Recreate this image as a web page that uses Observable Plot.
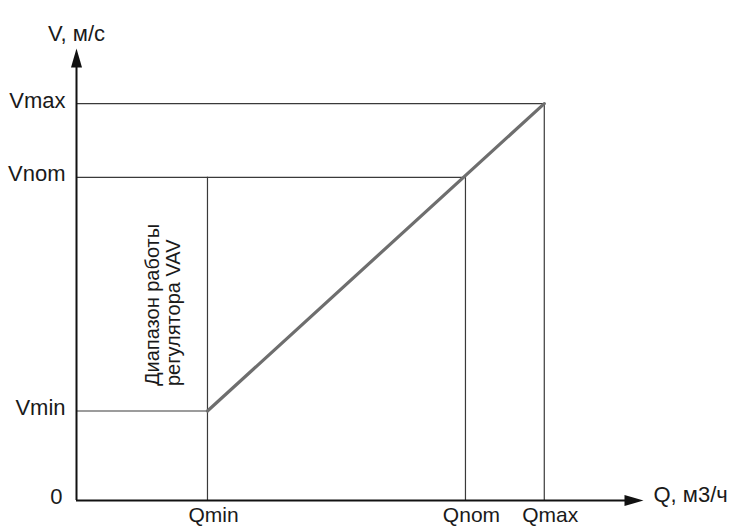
<!DOCTYPE html>
<html>
<head>
<meta charset="utf-8">
<script src="https://cdn.jsdelivr.net/npm/d3@7"></script>
<script src="https://cdn.jsdelivr.net/npm/@observablehq/plot@0.6"></script>
<style>
  html, body { margin: 0; padding: 0; background: #fff; }
  #chart { width: 732px; height: 528px; }
</style>
</head>
<body>
<div id="chart"></div>
<script>
// Flow rate points (relative units) and velocity points (relative units)
const qNames = ["Qmin", "Qnom", "Qmax"];
const qValues = [23.1, 68.6, 82.5];
const vNames = ["Vmin", "Vnom", "Vmax"];
const vValues = [19.8, 71.5, 87.8];
const xAxisMax = 100;
const yAxisMax = 100;
const xTitle = "Q, м3/ч";
const yTitle = "V, м/с";
const zeroLabel = "0";
const bandLabel = ["Диапазон работы", "регулятора VAV"];

const pts = qNames.map((q, i) => ({q: qValues[i], v: vValues[i], qn: q, vn: vNames[i]}));
const [pMin, pNom, pMax] = pts;

const hGuides = [
  {y: pMin.v, x2: pMin.q},
  {y: pNom.v, x2: pNom.q},
  {y: pMax.v, x2: pMax.q}
];
const vGuides = [
  {x: pMin.q, y2: pNom.v},
  {x: pNom.q, y2: pNom.v},
  {x: pMax.q, y2: pMax.v}
];

const arrowSymbol = {
  draw(ctx, size) {
    ctx.moveTo(0, 0);
    ctx.lineTo(-19, -5.5);
    ctx.lineTo(-19, 5.5);
    ctx.closePath();
  }
};

const font = "'Liberation Sans', Arial, Helvetica, sans-serif";
const fs = 22;
const ink = "#1a1a1a";

const chart = Plot.plot({
  width: 732,
  height: 528,
  marginLeft: 76,
  marginRight: 89,
  marginTop: 48,
  marginBottom: 28,
  style: {fontFamily: font, fontSize: fs + "px", color: ink, background: "#fff"},
  x: {domain: [0, xAxisMax], axis: null},
  y: {domain: [0, yAxisMax], axis: null},
  marks: [
    Plot.ruleY(hGuides, {y: "y", x1: 0, x2: "x2", stroke: "#3a3a3a", strokeWidth: 1.2}),
    Plot.ruleX(vGuides, {x: "x", y1: 0, y2: "y2", stroke: "#3a3a3a", strokeWidth: 1.2}),
    Plot.line([pMin, pMax], {x: "q", y: "v", stroke: "#6e6e6e", strokeWidth: 3.2}),
    // axes
    Plot.ruleY([0], {x1: 0, x2: xAxisMax - 2, stroke: "#111", strokeWidth: 2}),
    Plot.ruleX([0], {y1: 0, y2: yAxisMax - 3, stroke: "#111", strokeWidth: 2}),
    Plot.dot([{x: xAxisMax, y: 0}], {x: "x", y: "y", symbol: arrowSymbol, fill: "#111", stroke: "none", r: 5}),
    Plot.dot([{x: 0, y: yAxisMax}], {x: "x", y: "y", symbol: arrowSymbol, fill: "#111", stroke: "none", r: 5, rotate: -90}),
    // tick labels
    Plot.text(pts, {x: 0, y: "v", text: "vn", textAnchor: "end", dx: -11, dy: -3, fontSize: fs, fill: ink}),
    Plot.text([zeroLabel], {x: 0, y: 0, textAnchor: "end", dx: -14, dy: -4, fontSize: fs, fill: ink}),
    Plot.text(pts, {x: "q", y: 0, text: "qn", dx: 6, dy: 15, fontSize: 21, fill: ink}),
    // axis titles
    Plot.text([yTitle], {frameAnchor: "top-left", dy: -23, textAnchor: "middle", fontSize: fs, fill: ink}),
    Plot.text([xTitle], {frameAnchor: "bottom-right", dx: 10, dy: 1, textAnchor: "start", fontSize: fs, fill: ink}),
    // rotated band label
    Plot.text([bandLabel[0]], {x: pMin.q, y: pMin.v, rotate: -90, textAnchor: "start", dx: -55, dy: -25, fontSize: 20, fill: ink}),
    Plot.text([bandLabel[1]], {x: pMin.q, y: pMin.v, rotate: -90, textAnchor: "start", dx: -34, dy: -25, fontSize: 20, fill: ink})
  ]
});
document.getElementById("chart").appendChild(chart);
</script>
</body>
</html>
